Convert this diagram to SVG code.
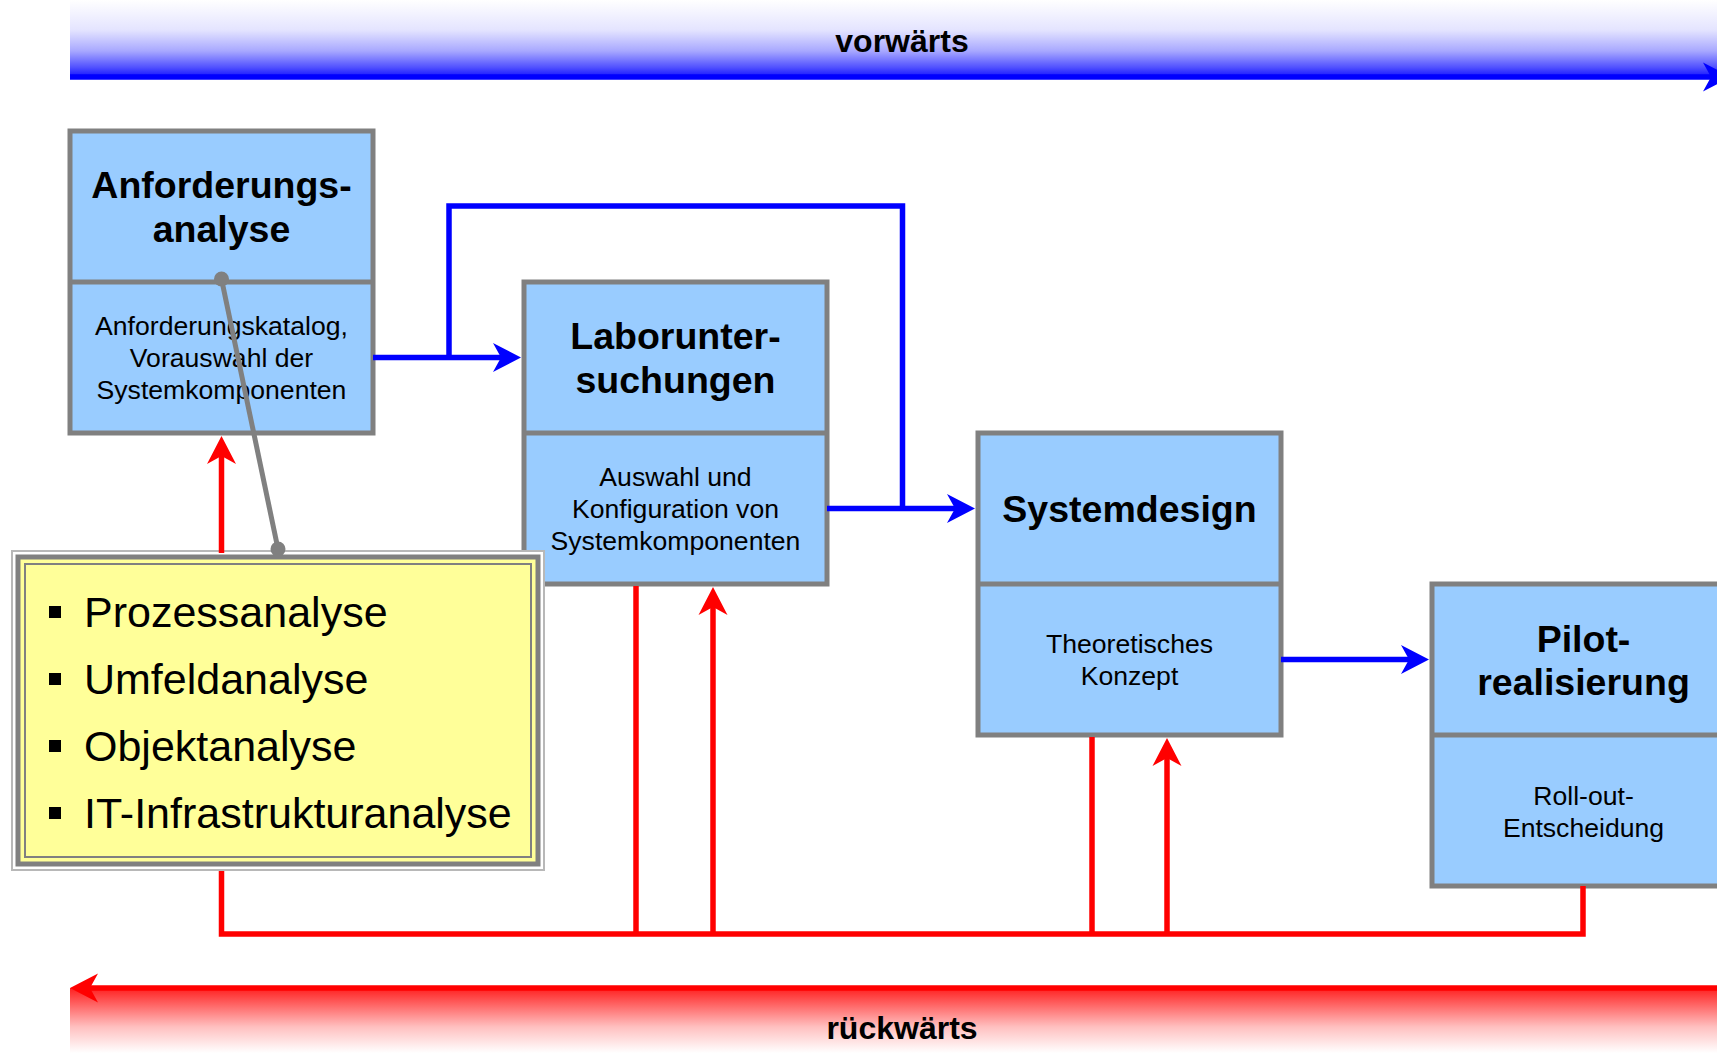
<svg xmlns="http://www.w3.org/2000/svg" width="1717" height="1053" viewBox="0 0 1717 1053">
<style>
  text { font-family: "Liberation Sans", Arial, sans-serif; fill: #000; }
  .title { font-size: 37.5px; font-weight: bold; text-anchor: middle; }
  .sub { font-size: 26.6px; text-anchor: middle; }
  .band { font-size: 32px; font-weight: bold; text-anchor: middle; }
  .bul { font-size: 43px; }
  .box { fill: #99CCFF; stroke: #808080; stroke-width: 5; }
  .div { stroke: #808080; stroke-width: 5; }
  .blue { fill: none; stroke: #0000FF; stroke-width: 5.5; }
  .red { fill: none; stroke: #FF0000; stroke-width: 5.5; }
  .gray { fill: none; stroke: #808080; stroke-width: 5; }
</style>
<defs>
  <linearGradient id="gBlue" x1="0" y1="0" x2="0" y2="1">
    <stop offset="0" stop-color="#ffffff"/>
    <stop offset="0.4" stop-color="#e4e4ff"/>
    <stop offset="0.68" stop-color="#a8a8ff"/>
    <stop offset="0.9" stop-color="#5050ff"/>
    <stop offset="1" stop-color="#2020ff"/>
  </linearGradient>
  <linearGradient id="gRed" x1="0" y1="0" x2="0" y2="1">
    <stop offset="0" stop-color="#ff2020"/>
    <stop offset="0.3" stop-color="#ff7070"/>
    <stop offset="0.6" stop-color="#ffc0c0"/>
    <stop offset="1" stop-color="#ffffff"/>
  </linearGradient>
  <marker id="aBlue" markerUnits="userSpaceOnUse" viewBox="-10 -16 32 32" refX="0" refY="0" markerWidth="32" markerHeight="32" orient="auto">
    <path d="M20,0 L-8,-14.5 L0,0 L-8,14.5 Z" fill="#0000FF"/>
  </marker>
  <marker id="aRed" markerUnits="userSpaceOnUse" viewBox="-10 -16 32 32" refX="0" refY="0" markerWidth="32" markerHeight="32" orient="auto">
    <path d="M20,0 L-8,-14.5 L0,0 L-8,14.5 Z" fill="#FF0000"/>
  </marker>
</defs>

<rect width="1717" height="1053" fill="#ffffff"/>

<g id="band-vorwaerts">
  <rect x="70" y="0" width="1647" height="75" fill="url(#gBlue)"/>
  <path d="M70,77 H1711" class="blue" stroke-width="6" marker-end="url(#aBlue)"/>
  <text x="902" y="52" class="band">vorwärts</text>
</g>

<g id="band-rueckwaerts">
  <rect x="70" y="988" width="1647" height="65" fill="url(#gRed)"/>
  <path d="M1717,988 H90" class="red" stroke-width="6" marker-end="url(#aRed)"/>
  <text x="902" y="1039" class="band">rückwärts</text>
</g>

<g id="node-anforderungsanalyse">
  <rect x="70" y="131" width="303" height="302" class="box"/>
  <line x1="70" y1="282" x2="373" y2="282" class="div"/>
  <text x="221.5" y="198" class="title">Anforderungs-</text>
  <text x="221.5" y="242" class="title">analyse</text>
  <text x="221.5" y="335" class="sub">Anforderungskatalog,</text>
  <text x="221.5" y="367" class="sub">Vorauswahl der</text>
  <text x="221.5" y="399" class="sub">Systemkomponenten</text>
</g>

<g id="node-laboruntersuchungen">
  <rect x="524" y="282" width="303" height="302" class="box"/>
  <line x1="524" y1="433" x2="827" y2="433" class="div"/>
  <text x="675.5" y="349" class="title">Laborunter-</text>
  <text x="675.5" y="393" class="title">suchungen</text>
  <text x="675.5" y="486" class="sub">Auswahl und</text>
  <text x="675.5" y="518" class="sub">Konfiguration von</text>
  <text x="675.5" y="550" class="sub">Systemkomponenten</text>
</g>

<g id="node-systemdesign">
  <rect x="978" y="433" width="303" height="302" class="box"/>
  <line x1="978" y1="584" x2="1281" y2="584" class="div"/>
  <text x="1129.5" y="522" class="title">Systemdesign</text>
  <text x="1129.5" y="653" class="sub">Theoretisches</text>
  <text x="1129.5" y="685" class="sub">Konzept</text>
</g>

<g id="node-pilotrealisierung">
  <rect x="1432" y="584" width="303" height="302" class="box"/>
  <line x1="1432" y1="735" x2="1735" y2="735" class="div"/>
  <text x="1583.5" y="652" class="title">Pilot-</text>
  <text x="1583.5" y="695" class="title">realisierung</text>
  <text x="1583.5" y="805" class="sub">Roll-out-</text>
  <text x="1583.5" y="837" class="sub">Entscheidung</text>
</g>

<g id="node-analysen">
  <rect x="12" y="551" width="532" height="319" fill="#ffffff" stroke="#b8b8b8" stroke-width="2"/>
  <rect x="18" y="557" width="520" height="307" fill="#FFFF99" stroke="#808080" stroke-width="5"/>
  <rect x="25" y="564" width="506" height="293" fill="none" stroke="#808080" stroke-width="2"/>
  <rect x="49" y="606" width="12" height="12" fill="#000"/>
  <text x="84" y="627" class="bul">Prozessanalyse</text>
  <rect x="49" y="673" width="12" height="12" fill="#000"/>
  <text x="84" y="694" class="bul">Umfeldanalyse</text>
  <rect x="49" y="740" width="12" height="12" fill="#000"/>
  <text x="84" y="761" class="bul">Objektanalyse</text>
  <rect x="49" y="807" width="12" height="12" fill="#000"/>
  <text x="84" y="828" class="bul">IT-Infrastrukturanalyse</text>
</g>

<g id="connectors">
  <path d="M373,357.5 H501" class="blue" marker-end="url(#aBlue)"/>
  <path d="M449,357.5 V206 H902.5 V508.5" class="blue"/>
  <path d="M827,508.5 H955" class="blue" marker-end="url(#aBlue)"/>
  <path d="M1281,659.5 H1409" class="blue" marker-end="url(#aBlue)"/>

  <path d="M1583,886 V934 H221.5 V871" class="red"/>
  <path d="M221.5,553 V456" class="red" marker-end="url(#aRed)"/>
  <path d="M636,586 V934" class="red"/>
  <path d="M713,934 V607" class="red" marker-end="url(#aRed)"/>
  <path d="M1092,737 V934" class="red"/>
  <path d="M1167,934 V758" class="red" marker-end="url(#aRed)"/>

  <line x1="221.5" y1="279" x2="278" y2="549" class="gray"/>
  <circle cx="221.5" cy="279" r="7.5" fill="#808080"/>
  <circle cx="278" cy="549" r="7.5" fill="#808080"/>
</g>
</svg>
